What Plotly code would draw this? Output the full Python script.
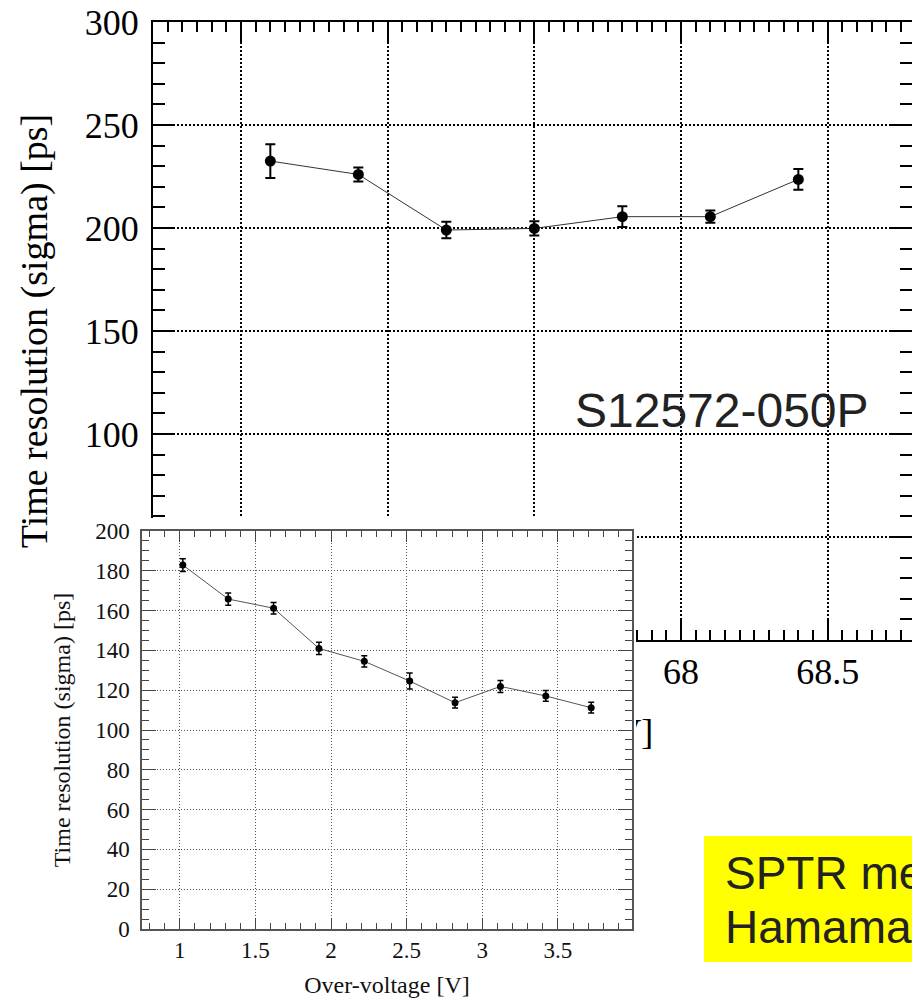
import plotly.graph_objects as go

# ---------------- data ----------------
# Main chart: bias-voltage scan of S12572-050P
bias_v = [66.6, 66.9, 67.2, 67.5, 67.8, 68.1, 68.4]
bias_sigma = [232.5, 226.0, 199.0, 199.8, 205.5, 205.5, 223.6]
bias_err = [8.2, 3.4, 4.0, 3.5, 5.0, 3.0, 5.0]

# Inset: over-voltage scan
ov_v = [1.02, 1.32, 1.62, 1.92, 2.22, 2.52, 2.82, 3.12, 3.42, 3.72]
ov_sigma = [182.9, 165.8, 161.2, 141.0, 134.5, 124.6, 113.7, 121.9, 117.1, 111.2]
ov_err = [3.2, 3.1, 2.9, 3.1, 2.8, 4.0, 2.7, 3.0, 2.7, 2.7]

main_title_y = "Time resolution (sigma) [ps]"
main_title_x = "Bias voltage [V]"
inset_title_y = "Time resolution (sigma) [ps]"
inset_title_x = "Over-voltage [V]"
label_device = "S12572-050P"
box_lines = ["SPTR measured by", "Hamamatsu"]

# ---------------- layout geometry ----------------
W, H = 912, 1001
SERIF = "Liberation Serif, Times New Roman, serif"
SANS = "Liberation Sans, Arial, sans-serif"


def px_x(p):
    return p / W


def px_y(p):
    return 1 - p / H


main_x0, main_x1 = 153, 912
main_y0, main_y1 = 22, 640
main_xmin = 66.2
main_scale = (681 - 153) / (68.0 - 66.2)  # px per volt
main_xmax = main_xmin + (main_x1 - main_x0) / main_scale

in_x0, in_x1 = 142, 632
in_y0, in_y1 = 531, 929

# white backing of the pasted inset picture
cov_x0, cov_x1, cov_y0, cov_y1 = 48, 636, 518, 1001

fig = go.Figure()

fig.add_trace(go.Scatter(
    x=bias_v, y=bias_sigma,
    error_y=dict(type="data", array=bias_err, color="black", thickness=2, width=5),
    mode="lines+markers",
    line=dict(color="#333333", width=1),
    marker=dict(color="black", size=11),
    xaxis="x", yaxis="y", showlegend=False,
))

# main x-axis title drawn inside the main subplot layer so the inset covers it
fig.add_trace(go.Scatter(
    x=[(main_xmin + 68.8) / 2], y=[8],
    mode="text", text=["<br><br>" + main_title_x],
    textfont=dict(family=SERIF, size=36, color="black"),
    textposition="bottom center", cliponaxis=False,
    xaxis="x", yaxis="y", showlegend=False, hoverinfo="skip",
))

# empty trace that creates the covering (white background) subplot
fig.add_trace(go.Scatter(x=[None], y=[None], xaxis="x2", yaxis="y2",
                         showlegend=False, hoverinfo="skip"))

fig.add_trace(go.Scatter(
    x=ov_v, y=ov_sigma,
    error_y=dict(type="data", array=ov_err, color="black", thickness=1.5, width=3),
    mode="lines+markers",
    line=dict(color="#555555", width=1),
    marker=dict(color="black", size=7),
    xaxis="x3", yaxis="y3", showlegend=False,
))

main_axis_common = dict(
    showline=True, linecolor="black", linewidth=2, mirror="ticks",
    ticks="inside", tickcolor="black", tickwidth=2,
    showgrid=True, gridcolor="black", gridwidth=1.5, griddash="2px,2px",
    zeroline=False, automargin=False,
    tickfont=dict(family=SERIF, size=36, color="black"),
)

inset_axis_common = dict(
    showline=True, linecolor="#555555", linewidth=1.5, mirror="ticks",
    ticks="inside", tickcolor="#444444", tickwidth=1.2,
    showgrid=True, gridcolor="#555555", gridwidth=1, griddash="1px,2px",
    zeroline=False, automargin=False,
    tickfont=dict(family=SERIF, size=23, color="#111111"),
)

hidden_axis = dict(visible=False, automargin=False, range=[0, 1], fixedrange=True)

fig.update_layout(
    width=W, height=H,
    margin=dict(l=0, r=0, t=0, b=0),
    paper_bgcolor="white", plot_bgcolor="white",
    xaxis=dict(
        domain=[px_x(main_x0), px_x(main_x1)],
        range=[main_xmin, main_xmax], anchor="y",
        tick0=0, dtick=0.5, ticklen=20,
        minor=dict(dtick=0.05, ticklen=10, ticks="inside", tickcolor="black",
                   tickwidth=2, showgrid=False),
        ticklabelstandoff=-1,
        **main_axis_common,
    ),
    yaxis=dict(
        domain=[px_y(main_y1), px_y(main_y0)],
        range=[0, 300], anchor="x",
        tick0=0, dtick=50, ticklen=22,
        minor=dict(dtick=10, ticklen=12, ticks="inside", tickcolor="black",
                   tickwidth=2, showgrid=False),
        ticklabelstandoff=5,
        title=dict(text=main_title_y, font=dict(family=SERIF, size=38, color="black"),
                   standoff=25),
        **main_axis_common,
    ),
    xaxis2=dict(domain=[px_x(cov_x0), px_x(cov_x1)], anchor="y2", **hidden_axis),
    yaxis2=dict(domain=[px_y(cov_y1), px_y(cov_y0)], anchor="x2", **hidden_axis),
    xaxis3=dict(
        domain=[px_x(in_x0), px_x(in_x1)],
        range=[0.75, 3.99], anchor="y3",
        tick0=0, dtick=0.5, ticklen=11,
        minor=dict(dtick=0.1, ticklen=6, ticks="inside", tickcolor="#444444",
                   tickwidth=1.2, showgrid=False),
        ticklabelstandoff=0,
        title=dict(text=inset_title_x, font=dict(family=SERIF, size=24, color="#111111"),
                   standoff=14),
        **inset_axis_common,
    ),
    yaxis3=dict(
        domain=[px_y(in_y1), px_y(in_y0)],
        range=[0, 200], anchor="x3",
        tick0=0, dtick=20, ticklen=14,
        minor=dict(dtick=5, ticklen=7, ticks="inside", tickcolor="#444444",
                   tickwidth=1.2, showgrid=False),
        ticklabelstandoff=6,
        title=dict(text=inset_title_y, font=dict(family=SERIF, size=24, color="#111111"),
                   standoff=18),
        **inset_axis_common,
    ),
    shapes=[
        # yellow box
        dict(type="rect", xref="paper", yref="paper",
             x0=px_x(704), x1=1.05, y0=px_y(962), y1=px_y(836),
             fillcolor="#ffff00", line=dict(width=0), layer="above"),
    ],
    annotations=[
        dict(text=label_device, xref="paper", yref="paper", x=px_x(722), y=px_y(410),
             xanchor="center", yanchor="middle", showarrow=False,
             font=dict(family=SANS, size=48, color="#222222")),
        dict(text=box_lines[0], xref="paper", yref="paper", x=px_x(723), y=px_y(873),
             xanchor="left", yanchor="middle", showarrow=False,
             font=dict(family=SANS, size=46, color="#222222")),
        dict(text=box_lines[1], xref="paper", yref="paper", x=px_x(723), y=px_y(927),
             xanchor="left", yanchor="middle", showarrow=False,
             font=dict(family=SANS, size=46, color="#222222")),
    ],
)

fig.write_html("out.html")
